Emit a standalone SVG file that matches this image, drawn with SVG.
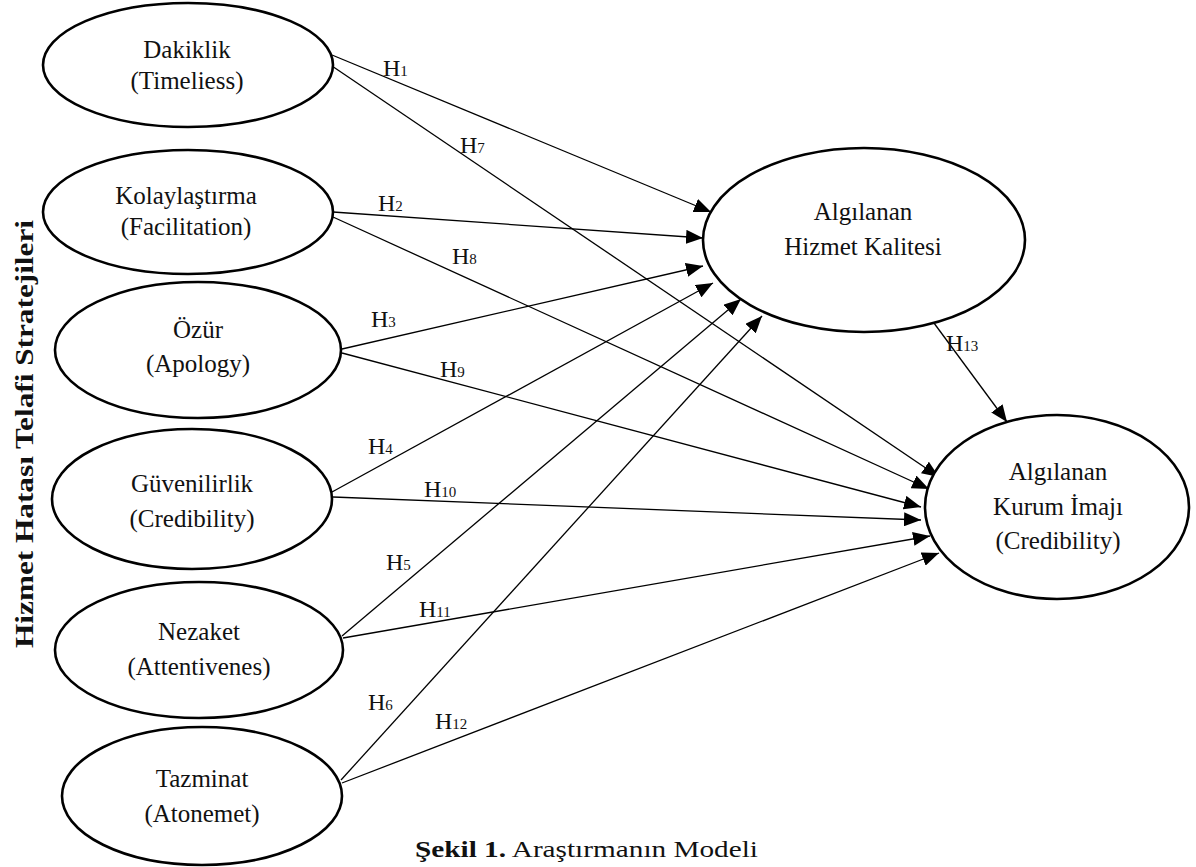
<svg xmlns="http://www.w3.org/2000/svg" width="1196" height="867" viewBox="0 0 1196 867">
<style>
.node ellipse{fill:#fff;stroke:#000;stroke-width:2.6}
.t{font-family:"Liberation Serif","Times New Roman",serif;font-size:25px;fill:#111;text-anchor:middle}
.edge line{stroke:#000;stroke-width:1.3}
.h{font-family:"Liberation Serif","Times New Roman",serif;font-size:24px;fill:#111}
.h tspan.s{font-size:15px}
.vl{font-family:"Liberation Serif","Times New Roman",serif;font-size:25px;font-weight:bold;fill:#111;text-anchor:middle}
.cap{font-family:"Liberation Serif","Times New Roman",serif;font-size:24px;fill:#111}
</style>
<defs>
<marker id="ah" markerUnits="userSpaceOnUse" markerWidth="18" markerHeight="14" refX="17" refY="7" orient="auto">
<path d="M0,0 L17,7 L0,14 Z" fill="#000"/>
</marker>
</defs>
<rect width="1196" height="867" fill="#fff"/>
<g id="connectors" class="edge">
<line x1="332" y1="55" x2="711" y2="212" marker-end="url(#ah)"/>
<line x1="333" y1="212" x2="703" y2="238" marker-end="url(#ah)"/>
<line x1="342" y1="349" x2="703" y2="266" marker-end="url(#ah)"/>
<line x1="332" y1="492" x2="713" y2="283" marker-end="url(#ah)"/>
<line x1="342" y1="636" x2="741" y2="299" marker-end="url(#ah)"/>
<line x1="341" y1="780" x2="762" y2="316" marker-end="url(#ah)"/>
<line x1="332" y1="66" x2="939" y2="477" marker-end="url(#ah)"/>
<line x1="333" y1="217" x2="929" y2="489" marker-end="url(#ah)"/>
<line x1="342" y1="353" x2="921" y2="507" marker-end="url(#ah)"/>
<line x1="333" y1="497" x2="921" y2="520" marker-end="url(#ah)"/>
<line x1="343" y1="638" x2="930" y2="536" marker-end="url(#ah)"/>
<line x1="342" y1="783" x2="939" y2="553" marker-end="url(#ah)"/>
<line x1="931" y1="319" x2="1007" y2="422" marker-end="url(#ah)"/>
</g>
<g id="labels">
<text class="h" x="383" y="76">H<tspan class="s">1</tspan></text>
<text class="h" x="378" y="211">H<tspan class="s">2</tspan></text>
<text class="h" x="371" y="327">H<tspan class="s">3</tspan></text>
<text class="h" x="368" y="454">H<tspan class="s">4</tspan></text>
<text class="h" x="386" y="570">H<tspan class="s">5</tspan></text>
<text class="h" x="368" y="710">H<tspan class="s">6</tspan></text>
<text class="h" x="460" y="153">H<tspan class="s">7</tspan></text>
<text class="h" x="452" y="264">H<tspan class="s">8</tspan></text>
<text class="h" x="440" y="377">H<tspan class="s">9</tspan></text>
<text class="h" x="424" y="497">H<tspan class="s">10</tspan></text>
<text class="h" x="419" y="617">H<tspan class="s">11</tspan></text>
<text class="h" x="435" y="729">H<tspan class="s">12</tspan></text>
<text class="h" x="946" y="351">H<tspan class="s">13</tspan></text>
</g>
<g id="n1" class="node"><ellipse cx="188" cy="65" rx="145" ry="62"/><text class="t" x="187" y="58">Dakiklik</text><text class="t" x="187" y="89">(Timeliess)</text></g>
<g id="n2" class="node"><ellipse cx="188" cy="212" rx="145" ry="62"/><text class="t" x="186" y="204">Kolaylaştırma</text><text class="t" x="186" y="235">(Facilitation)</text></g>
<g id="n3" class="node"><ellipse cx="198" cy="350" rx="143" ry="68"/><text class="t" x="198" y="338">Özür</text><text class="t" x="198" y="372">(Apology)</text></g>
<g id="n4" class="node"><ellipse cx="192" cy="499" rx="140" ry="70"/><text class="t" x="192" y="492">Güvenilirlik</text><text class="t" x="192" y="527">(Credibility)</text></g>
<g id="n5" class="node"><ellipse cx="199" cy="650" rx="144" ry="68"/><text class="t" x="199" y="640">Nezaket</text><text class="t" x="199" y="675">(Attentivenes)</text></g>
<g id="n6" class="node"><ellipse cx="202" cy="796" rx="140" ry="69"/><text class="t" x="202" y="787">Tazminat</text><text class="t" x="202" y="822">(Atonemet)</text></g>
<g id="n7" class="node"><ellipse cx="864" cy="240" rx="161" ry="92"/><text class="t" x="863" y="220">Algılanan</text><text class="t" x="863" y="255">Hizmet Kalitesi</text></g>
<g id="n8" class="node"><ellipse cx="1057" cy="507" rx="132" ry="92"/><text class="t" x="1058" y="480">Algılanan</text><text class="t" x="1058" y="515">Kurum İmajı</text><text class="t" x="1058" y="549">(Credibility)</text></g>
<text class="vl" x="33" y="434" transform="rotate(-90 33 434)" textLength="428" lengthAdjust="spacingAndGlyphs">Hizmet Hatası Telafi Stratejileri</text>
<text class="cap" x="415" y="857" textLength="343" lengthAdjust="spacingAndGlyphs"><tspan font-weight="bold">Şekil 1.</tspan> Araştırmanın Modeli</text>
</svg>
